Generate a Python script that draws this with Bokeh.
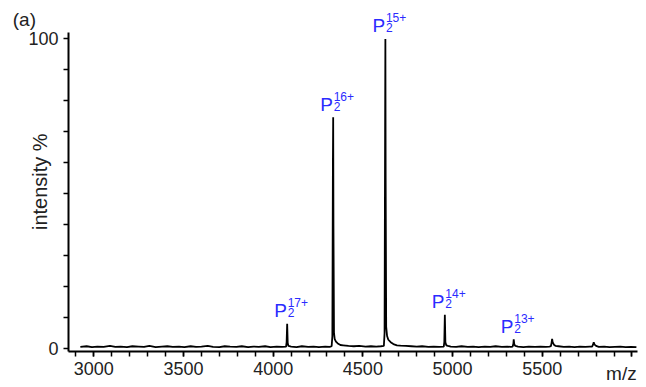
import math
from bokeh.plotting import figure
from bokeh.models import ColumnDataSource, Range1d, SingleIntervalTicker, FixedTicker
from bokeh.core.properties import value
from bokeh.embed import file_html
from bokeh.resources import INLINE

# ---- data ----
# baseline samples (m/z, intensity %)
base_mz = [2925, 2960, 2990, 3020, 3055, 3090, 3120, 3150, 3185, 3215,
           3250, 3280, 3310, 3345, 3380, 3410, 3440, 3475, 3505, 3540,
           3570, 3600, 3635, 3665, 3700, 3730, 3760, 3795, 3825, 3860,
           3890, 3920, 3955, 3985, 4020, 4050, 4100, 4130, 4160, 4195,
           4225, 4255, 4290, 4315, 4390, 4420, 4450, 4480, 4515, 4545,
           4575, 4600, 4710, 4740, 4770, 4800, 4830, 4865, 4895, 4925,
           4990, 5020, 5050, 5085, 5115, 5145, 5180, 5210, 5240, 5275,
           5305, 5325, 5365, 5395, 5425, 5460, 5490, 5520, 5540, 5590,
           5620, 5650, 5680, 5710, 5740, 5765, 5815, 5845, 5875, 5905,
           5935, 5965, 5995, 6025]
base_int = [0.5, 0.7, 0.4, 0.6, 0.5, 0.8, 0.5, 0.6, 0.4, 0.7,
            0.6, 0.5, 0.8, 0.4, 0.6, 0.7, 0.5, 0.6, 0.4, 0.7,
            0.5, 0.6, 0.8, 0.5, 0.4, 0.7, 0.6, 0.5, 0.7, 0.4,
            0.6, 0.5, 0.7, 0.4, 0.6, 0.5, 0.6, 0.4, 0.7, 0.5,
            0.6, 0.4, 0.6, 0.5, 1.0, 0.8, 0.7, 0.8, 0.6, 0.7,
            0.6, 0.7, 0.9, 0.8, 0.7, 0.6, 0.7, 0.5, 0.6, 0.5,
            0.6, 0.5, 0.7, 0.5, 0.6, 0.4, 0.6, 0.5, 0.7, 0.5,
            0.6, 0.5, 0.6, 0.4, 0.6, 0.5, 0.6, 0.5, 0.6, 0.7,
            0.5, 0.6, 0.4, 0.6, 0.5, 0.6, 0.5, 0.6, 0.4, 0.5,
            0.6, 0.4, 0.5, 0.4]

# peak profiles (m/z, intensity %)
peak_mz = [4072, 4075, 4078, 4081, 4085,
           4326, 4330, 4333, 4334.5, 4336, 4339, 4343, 4350, 4360, 4375,
           4617, 4621, 4624, 4625.5, 4627, 4630, 4635, 4642, 4655, 4670, 4690,
           4951, 4954, 4957, 4960, 4965, 4975,
           5335, 5339, 5341, 5344, 5350,
           5548, 5552, 5555, 5558, 5565, 5575,
           5778, 5783, 5787, 5792, 5800]
peak_int = [0.6, 2.0, 8.0, 1.8, 0.8,
            0.7, 4.0, 60.0, 74.7, 40.0, 5.0, 3.0, 2.2, 1.6, 1.1,
            0.8, 5.0, 70.0, 100.0, 55.0, 7.0, 4.0, 2.8, 2.0, 1.4, 1.0,
            0.6, 2.0, 10.9, 2.0, 1.0, 0.8,
            0.6, 1.5, 2.9, 1.3, 0.8,
            0.7, 1.8, 3.1, 2.0, 1.2, 0.8,
            0.6, 1.2, 2.0, 1.2, 0.8]

# annotated ions
ion_mz = [4078, 4334.5, 4625.5, 4957, 5341]
ion_int = [8.0, 74.7, 100.0, 10.9, 2.9]
ion_charge = ["17+", "16+", "15+", "14+", "13+"]

x_ticks_major = 500
y_ticks = [0, 100]
y_minor = [10, 20, 30, 40, 50, 60, 70, 80, 90]

assert len(base_mz) == len(base_int) and len(peak_mz) == len(peak_int)

pts = sorted(zip(base_mz + peak_mz, base_int + peak_int))
spec = ColumnDataSource(dict(mz=[a for a, b in pts], inten=[b for a, b in pts]))
ions = ColumnDataSource(dict(mz=ion_mz, inten=ion_int,
                             p=["P"] * len(ion_mz), sub=["2"] * len(ion_mz),
                             sup=ion_charge))

FONT = "Liberation Sans"
BLUE = "#2b2bff"
GREY = "#222222"

p = figure(width=646, height=387, output_backend="svg", toolbar_location=None,
           x_range=Range1d(2859, 6031), y_range=Range1d(-1.0, 102.1),
           min_border_left=68, min_border_right=9, min_border_top=32, min_border_bottom=36)
p.outline_line_color = None
p.xgrid.visible = False
p.ygrid.visible = False
p.background_fill_color = "white"
p.border_fill_color = "white"

p.line("mz", "inten", source=spec, line_color="black", line_width=1.8)

for col, size, dx, dy in (("p", "19px", -13, -13), ("sub", "12px", 0.5, -11), ("sup", "12px", 0.5, -21)):
    p.text("mz", "inten", text=col, source=ions, text_font=value(FONT), text_font_size=size,
           text_color=BLUE, text_align="left", text_baseline="alphabetic",
           x_offset=dx, y_offset=dy, level="overlay")

for ax in (p.xaxis[0], p.yaxis[0]):
    ax.axis_line_width = 2
    ax.axis_line_color = "black"
    ax.major_tick_line_color = "black"
    ax.minor_tick_line_color = "black"
    ax.major_tick_line_width = 1.5
    ax.minor_tick_line_width = 1.5
    ax.major_tick_in = 0
    ax.major_tick_out = 5
    ax.minor_tick_in = 0
    ax.minor_tick_out = 5
    ax.major_label_text_font = FONT
    ax.major_label_text_font_size = "18px"
    ax.major_label_text_color = GREY
    ax.major_label_standoff = 5

p.xaxis[0].ticker = SingleIntervalTicker(interval=x_ticks_major, num_minor_ticks=5)
p.xaxis[0].major_label_overrides = {6000: ""}
p.yaxis[0].ticker = FixedTicker(ticks=y_ticks, minor_ticks=y_minor)
p.yaxis[0].major_label_text_align = "center"
p.yaxis[0].major_label_standoff = 5

# axis titles and panel tag, anchored at axis points and offset in pixels
p.text(x=[3000], y=[50], text=["intensity %"], text_font=value(FONT), text_font_size="20px",
       text_color=GREY, text_align="center", text_baseline="middle", angle=math.pi / 2,
       x_offset=-54, y_offset=-12, level="overlay")
p.text(x=[5941], y=[0], text=["m/z"], text_font=value(FONT), text_font_size="19px",
       text_color=GREY, text_align="center", text_baseline="middle",
       y_offset=25, level="overlay")
p.text(x=[3000], y=[100], text=["(a)"], text_font=value(FONT), text_font_size="19px",
       text_color=GREY, text_align="left", text_baseline="alphabetic",
       x_offset=-81, y_offset=-19, level="overlay")

open("out.html", "w").write(file_html(p, INLINE))
